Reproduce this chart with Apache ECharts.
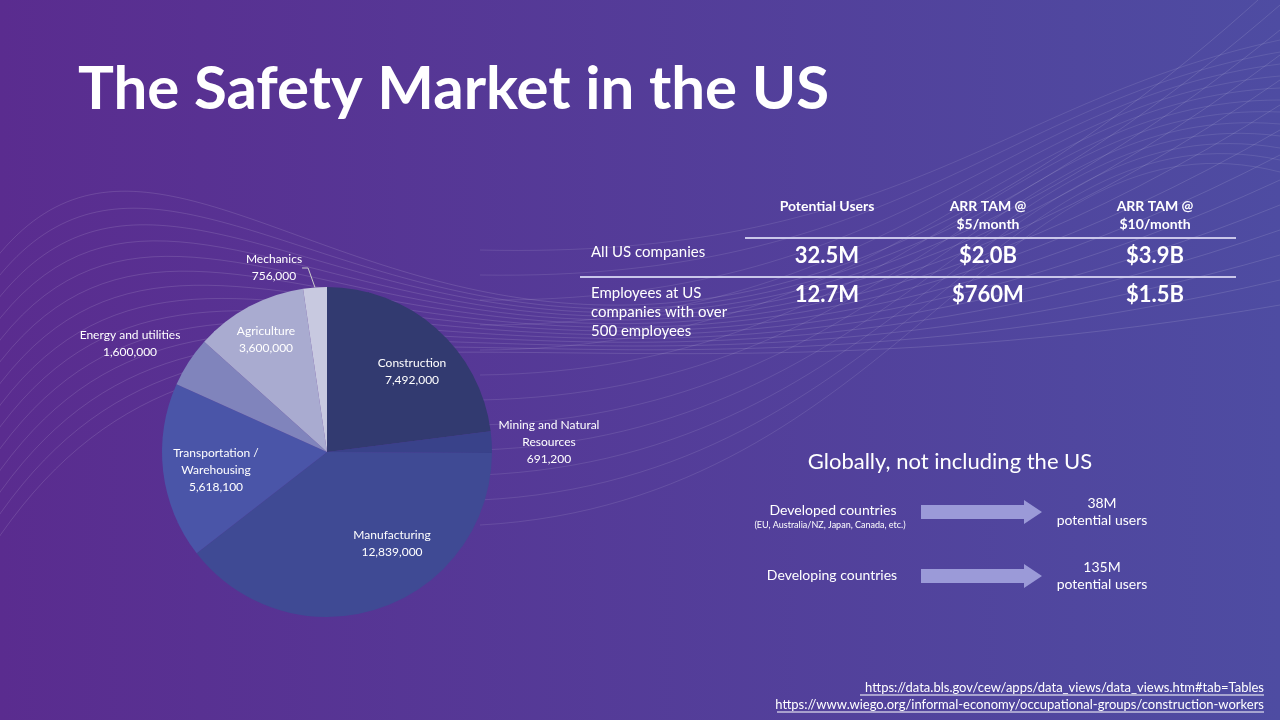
<!DOCTYPE html>
<html><head><meta charset="utf-8">
<script src="https://cdn.jsdelivr.net/npm/echarts@6/dist/echarts.min.js"></script>
<style>html,body{margin:0;padding:0;}#c{width:1280px;height:720px;}</style>
</head><body><div id="c"></div>
<script>
const categories = ['Construction','Mining and Natural\nResources','Manufacturing','Transportation /\nWarehousing','Energy and utilities','Agriculture','Mechanics'];
const values = [7492000, 691200, 12839000, 5618100, 1600000, 3600000, 756000];
const colors = ['#323a70','#39428a','#3f4a94','#4a55a8','#8084bc','#a9abd0','#c8c9e0'];
const tableCols = ['Potential Users','ARR TAM @\n$5/month','ARR TAM @\n$10/month'];
const tableRows = ['All US companies','Employees at US\ncompanies with over\n500 employees'];
const tableVals = [['32.5M','$2.0B','$3.9B'],['12.7M','$760M','$1.5B']];
const globalRows = ['Developed countries','Developing countries'];
const globalVals = ['38M\npotential users','135M\npotential users'];

const F = 'Lato, "Noto Sans", sans-serif';
const chart = echarts.init(document.getElementById('c'));
const fmt = v => v.toLocaleString('en-US');
const outside = {1:true,4:true,6:true};
const g = [];
for (let i=0;i<14;i++){
  g.push({type:'bezierCurve',silent:true,shape:{x1:-20,y1:280+i*22,cpx1:200,cpy1:-50+i*20,cpx2:500,cpy2:700-i*20,x2:1280,y2:-20+i*25},style:{stroke:'rgba(255,255,255,0.12)',lineWidth:1,fill:null}});
}
for (let i=0;i<12;i++){
  g.push({type:'bezierCurve',silent:true,shape:{x1:480,y1:250+i*25,cpx1:900,cpy1:260+i*22,cpx2:1000,cpy2:100,x2:1280,y2:40+i*12},style:{stroke:'rgba(255,255,255,0.1)',lineWidth:1,fill:null}});
}
g.push({type:'text',left:78,top:60,style:{text:'The Safety Market in the US',font:'bold 60px '+F,fill:'#fff'}});
const colX=[827,988,1155];
tableCols.forEach((t,i)=>g.push({type:'text',x:colX[i],y:197,style:{text:t,font:'bold 14px '+F,fill:'#fff',align:'center',lineHeight:18}}));
g.push({type:'line',shape:{x1:745,y1:238,x2:1236,y2:238},style:{stroke:'#c9c6ea',lineWidth:2}});
g.push({type:'line',shape:{x1:580,y1:277,x2:1236,y2:277},style:{stroke:'#c9c6ea',lineWidth:2}});
g.push({type:'text',x:591,y:245,style:{text:tableRows[0],font:'15px '+F,fill:'#fff'}});
g.push({type:'text',x:591,y:284,style:{text:tableRows[1],font:'15px '+F,fill:'#fff',lineHeight:19}});
tableVals.forEach((r,ri)=>r.forEach((v,ci)=>g.push({type:'text',x:colX[ci],y:[245,284][ri],style:{text:v,font:'bold 22px '+F,fill:'#fff',align:'center'}})));
g.push({type:'text',x:950,y:451,style:{text:'Globally, not including the US',font:'22px '+F,fill:'#fff',align:'center'}});
g.push({type:'text',x:833,y:503,style:{text:globalRows[0],font:'14px '+F,fill:'#fff',align:'center'}});
g.push({type:'text',x:830,y:521,style:{text:'(EU, Australia/NZ, Japan, Canada, etc.)',font:'9px '+F,fill:'#fff',align:'center'}});
g.push({type:'text',x:832,y:568,style:{text:globalRows[1],font:'14px '+F,fill:'#fff',align:'center'}});
[512,576].forEach((y,i)=>{
  g.push({type:'polygon',shape:{points:[[921,y-7],[1024,y-7],[1024,y-12],[1042,y],[1024,y+12],[1024,y+7],[921,y+7]]},style:{fill:'#9b9ad8'}});
  g.push({type:'text',x:1102,y:y-17,style:{text:globalVals[i],font:'14px '+F,fill:'#fff',align:'center',lineHeight:17}});
});
g.push({type:'text',right:16,top:681,style:{text:'https://data.bls.gov/cew/apps/data_views/data_views.htm#tab=Tables',font:'13px '+F,fill:'#fff',align:'right'}});
g.push({type:'text',right:16,top:698,style:{text:'https://www.wiego.org/informal-economy/occupational-groups/construction-workers',font:'13px '+F,fill:'#fff',align:'right'}});
g.push({type:'line',shape:{x1:860,y1:695,x2:1264,y2:695},style:{stroke:'#fff',lineWidth:1}});
g.push({type:'line',shape:{x1:777,y1:712,x2:1264,y2:712},style:{stroke:'#fff',lineWidth:1}});

const data = categories.map((c,i)=>{
  const d={name:c,value:values[i],itemStyle:{color:colors[i]}};
  if(outside[i]){
    d.label={position:'outside',color:'#fff'};
    d.labelLine={show:i===6,length:4,length2:6,lineStyle:{color:'#ccc'}};
  } else d.label={position:'inside'};
  return d;
});
chart.setOption({
  backgroundColor:{type:'linear',x:0,y:0,x2:1,y2:0,colorStops:[{offset:0,color:'#5a2c8f'},{offset:1,color:'#4e4ca2'}]},
  graphic:g,
  series:[{type:'pie',center:[327,452],radius:165,startAngle:90,clockwise:true,animation:false,
    label:{formatter:p=>p.name+'\n'+fmt(p.value),color:'#fff',fontFamily:F,fontSize:12,lineHeight:17,align:'center'},
    labelLayout:function(p){
      const m={1:[549,442],4:[130,344],6:[274,268]};
      if(m[p.dataIndex]) return {x:m[p.dataIndex][0],y:m[p.dataIndex][1],align:'center',verticalAlign:'middle'};
      const im={0:[412,372],2:[392,544],3:[216,470],5:[266,340]};
      if(im[p.dataIndex]) return {x:im[p.dataIndex][0],y:im[p.dataIndex][1],align:'center',verticalAlign:'middle'};
    },
    data:data}]
});
</script></body></html>
